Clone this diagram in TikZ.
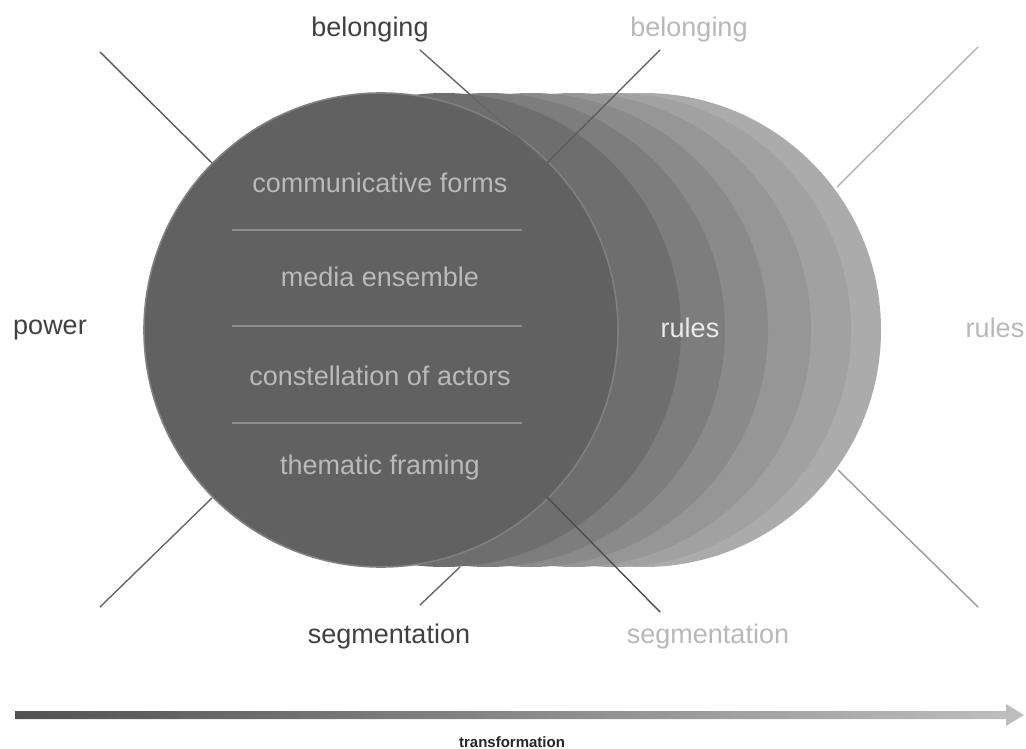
\documentclass[tikz,border=0pt]{standalone}
\usepackage{fontspec}
\setmainfont{Liberation Sans}
\begin{document}
\begin{tikzpicture}[x=1pt,y=-1pt,
  lbl/.style={font=\fontsize{27}{32}\selectfont, inner sep=0pt, anchor=center},
  darklbl/.style={lbl, text=black!75},
  graylbl/.style={lbl, text=black!28},
  inner/.style={lbl, text=black!27},
  sepline/.style={draw=black!45, line width=1.3pt},
  conn/.style={line width=1.4pt, line cap=round}]
\useasboundingbox (0,0) rectangle (1026,749);
% stacked circles, back to front
\fill[black!33] (644,330) circle (237);
\fill[black!37] (614,330) circle (237);
\fill[black!41] (574,330) circle (237);
\fill[black!46] (531,330) circle (237);
\fill[black!51] (488,330) circle (237);
\fill[black!57] (444,330) circle (237);
\fill[black!62, draw=black!50, line width=1.6pt] (381,330) circle (237);
% separators
\draw[sepline] (232,230) -- (522,230);
\draw[sepline] (232,326) -- (522,326);
\draw[sepline] (232,423) -- (522,423);
% inner texts
\node[inner] (cf) at (380,183) {communicative forms};
\node[inner] (me) at (380,277) {media ensemble};
\node[inner] (ca) at (380,376) {constellation of actors};
\node[inner] (tf) at (380,468) {thematic framing};
\node[lbl, text=black!8] (ru) at (690,328) {rules};
% outer labels
\node[darklbl] (bel1) at (370,30) {belonging};
\node[graylbl] (bel2) at (689,30) {belonging};
\node[darklbl] (pow) at (50,330) {power};
\node[graylbl] (ru2) at (995,328) {rules};
\node[darklbl] (seg1) at (389,637) {segmentation};
\node[graylbl] (seg2) at (708,637) {segmentation};
% connector coordinates
\coordinate (a1) at (100,52);   \coordinate (a2) at (212,163);
\coordinate (b1) at (420,50);   \coordinate (bm) at (547,163);
\coordinate (c1) at (660,50);
\coordinate (d1) at (978,47);   \coordinate (d2) at (837,187);
\coordinate (e1) at (100,607);  \coordinate (e2) at (212,498);
\coordinate (f1) at (420,605);  \coordinate (f2) at (460,567);
\coordinate (g1) at (660,612);  \coordinate (g2) at (547,497);
\coordinate (h1) at (978,607);  \coordinate (h2) at (838,470);
\draw[conn, draw=black!65] (a1) -- (a2);
\draw[conn, draw=black!60] (b1) -- (bm);
\draw[conn, draw=black!65] (c1) -- (bm);
\draw[conn, draw=black!30] (d1) -- (d2);
\draw[conn, draw=black!60] (e1) -- (e2);
\draw[conn, draw=black!60] (f1) -- (f2);
\draw[conn, draw=black!70] (g1) -- (g2);
\draw[conn, draw=black!40] (h1) -- (h2);
% transformation arrow
\shade[left color=black!68, right color=black!25]
  (15,711) -- (1006,711) -- (1006,704) -- (1024,715) -- (1006,726) -- (1006,719) -- (15,719) -- cycle;
\node[inner sep=0pt, font=\fontsize{15}{18}\selectfont\bfseries, text=black!85] (tr) at (512,742) {transformation};
\end{tikzpicture}
\end{document}
